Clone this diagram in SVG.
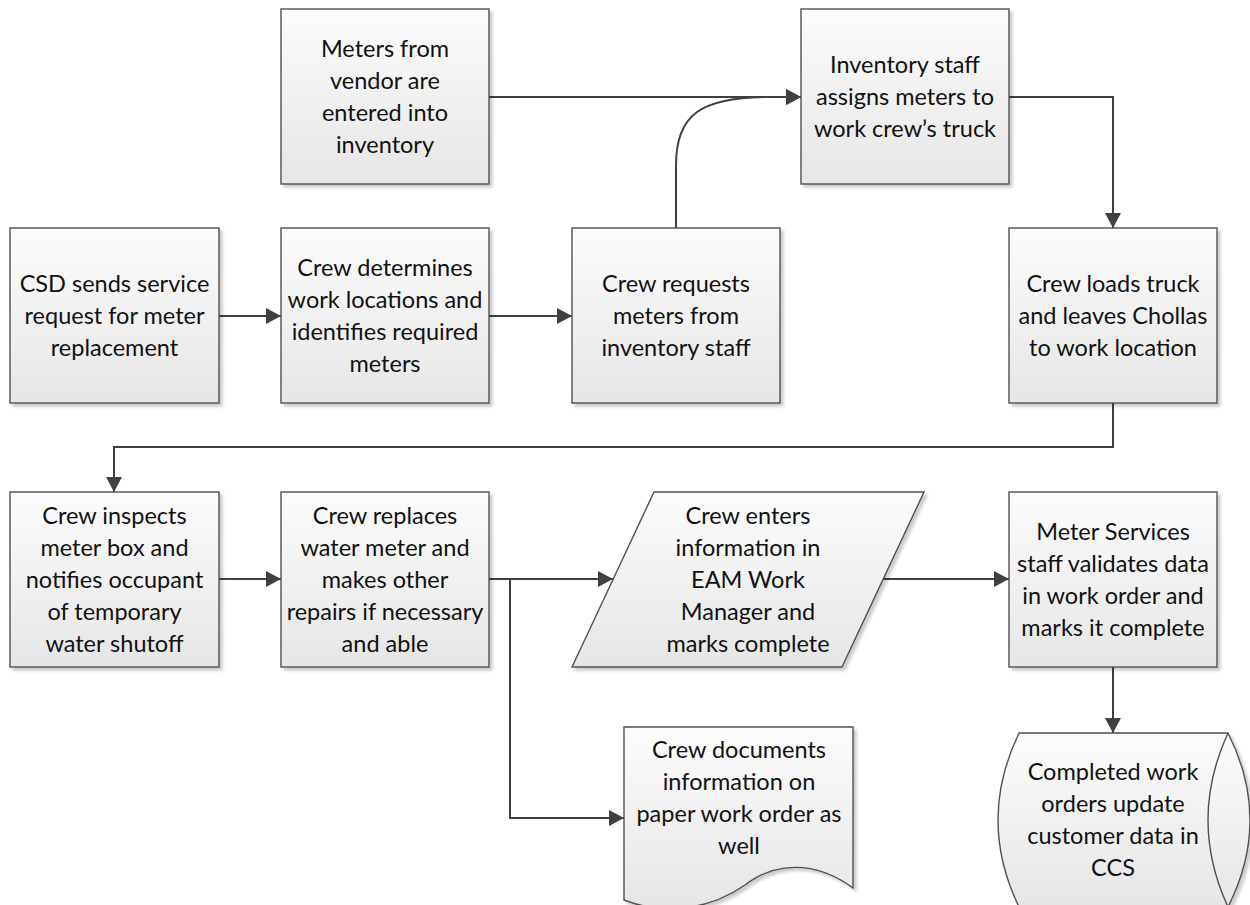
<svg xmlns="http://www.w3.org/2000/svg" width="1250" height="905" viewBox="0 0 1250 905">
<defs>
<linearGradient id="g" x1="0" y1="0" x2="0" y2="1">
<stop offset="0" stop-color="#fcfcfc"/>
<stop offset="1" stop-color="#e6e6e6"/>
</linearGradient>
<filter id="sh" x="-10%" y="-10%" width="130%" height="130%">
<feDropShadow dx="3" dy="3" stdDeviation="1.5" flood-color="#000" flood-opacity="0.2"/>
</filter>
<marker id="ah" markerUnits="userSpaceOnUse" markerWidth="16" markerHeight="17" refX="15" refY="8" orient="auto">
<path d="M0,0 L15,8 L0,16 Z" fill="#404040"/>
</marker>
<style>
.s{fill:url(#g);stroke:#505050;stroke-width:1.4;filter:url(#sh)}
.t{font-family:Lato,"Open Sans","Liberation Sans",sans-serif;font-size:23.5px;fill:#111;text-anchor:middle}
.c{fill:none;stroke:#404040;stroke-width:2}
.a{marker-end:url(#ah)}
</style>
</defs>
<rect width="1250" height="905" fill="#fff"/>

<g id="connectors">
<path class="c a" d="M489,97 H801"/>
<path class="c a" d="M676,228 V165 C676,115 700,97 770,97 H801"/>
<path class="c a" d="M219,316 H281"/>
<path class="c a" d="M489,316 H572"/>
<path class="c a" d="M1009,97 H1113 V228"/>
<path class="c a" d="M1113,403 V447 H114 V492"/>
<path class="c a" d="M219,579 H281"/>
<path class="c a" d="M489,579 H613"/>
<path class="c a" d="M510,579 V818 H624"/>
<path class="c a" d="M883,579 H1009"/>
<path class="c a" d="M1113,667 V733"/>
</g>

<g id="n-meters">
<rect class="s" x="281" y="9" width="208" height="175"/>
<text class="t" x="385" y="57">Meters from</text>
<text class="t" x="385" y="89">vendor are</text>
<text class="t" x="385" y="121">entered into</text>
<text class="t" x="385" y="153">inventory</text>
</g>

<g id="n-inventory">
<rect class="s" x="801" y="9" width="208" height="175"/>
<text class="t" x="905" y="73">Inventory staff</text>
<text class="t" x="905" y="105">assigns meters to</text>
<text class="t" x="905" y="137">work crew’s truck</text>
</g>

<g id="n-csd">
<rect class="s" x="10" y="228" width="209" height="175"/>
<text class="t" x="114.5" y="292">CSD sends service</text>
<text class="t" x="114.5" y="324">request for meter</text>
<text class="t" x="114.5" y="356">replacement</text>
</g>

<g id="n-determines">
<rect class="s" x="281" y="228" width="208" height="175"/>
<text class="t" x="385" y="276">Crew determines</text>
<text class="t" x="385" y="308">work locations and</text>
<text class="t" x="385" y="340">identifies required</text>
<text class="t" x="385" y="372">meters</text>
</g>

<g id="n-requests">
<rect class="s" x="572" y="228" width="208" height="175"/>
<text class="t" x="676" y="292">Crew requests</text>
<text class="t" x="676" y="324">meters from</text>
<text class="t" x="676" y="356">inventory staff</text>
</g>

<g id="n-loads">
<rect class="s" x="1009" y="228" width="208" height="175"/>
<text class="t" x="1113" y="292">Crew loads truck</text>
<text class="t" x="1113" y="324">and leaves Chollas</text>
<text class="t" x="1113" y="356">to work location</text>
</g>

<g id="n-inspects">
<rect class="s" x="10" y="492" width="209" height="175"/>
<text class="t" x="114.5" y="524">Crew inspects</text>
<text class="t" x="114.5" y="556">meter box and</text>
<text class="t" x="114.5" y="588">notifies occupant</text>
<text class="t" x="114.5" y="620">of temporary</text>
<text class="t" x="114.5" y="652">water shutoff</text>
</g>

<g id="n-replaces">
<rect class="s" x="281" y="492" width="208" height="175"/>
<text class="t" x="385" y="524">Crew replaces</text>
<text class="t" x="385" y="556">water meter and</text>
<text class="t" x="385" y="588">makes other</text>
<text class="t" x="385" y="620">repairs if necessary</text>
<text class="t" x="385" y="652">and able</text>
</g>

<g id="n-enters">
<path class="s" d="M654,492 H924 L842,667 H572 Z"/>
<text class="t" x="748" y="524">Crew enters</text>
<text class="t" x="748" y="556">information in</text>
<text class="t" x="748" y="588">EAM Work</text>
<text class="t" x="748" y="620">Manager and</text>
<text class="t" x="748" y="652">marks complete</text>
</g>

<g id="n-validates">
<rect class="s" x="1009" y="492" width="208" height="175"/>
<text class="t" x="1113" y="540">Meter Services</text>
<text class="t" x="1113" y="572">staff validates data</text>
<text class="t" x="1113" y="604">in work order and</text>
<text class="t" x="1113" y="636">marks it complete</text>
</g>

<g id="n-documents">
<path class="s" d="M624,727 H853 V888 C815,860 775,862 745,885 C715,906 670,918 624,900 Z"/>
<text class="t" x="739" y="758">Crew documents</text>
<text class="t" x="739" y="790">information on</text>
<text class="t" x="739" y="822">paper work order as</text>
<text class="t" x="739" y="854">well</text>
</g>

<g id="n-ccs">
<path class="s" d="M1019,733 H1228 Q1272,820 1228,907 H1019 Q977,820 1019,733 Z"/>
<path d="M1228,733 Q1188,820 1228,907" fill="none" stroke="#505050" stroke-width="1.4"/>
<text class="t" x="1113" y="780">Completed work</text>
<text class="t" x="1113" y="812">orders update</text>
<text class="t" x="1113" y="844">customer data in</text>
<text class="t" x="1113" y="876">CCS</text>
</g>
</svg>
